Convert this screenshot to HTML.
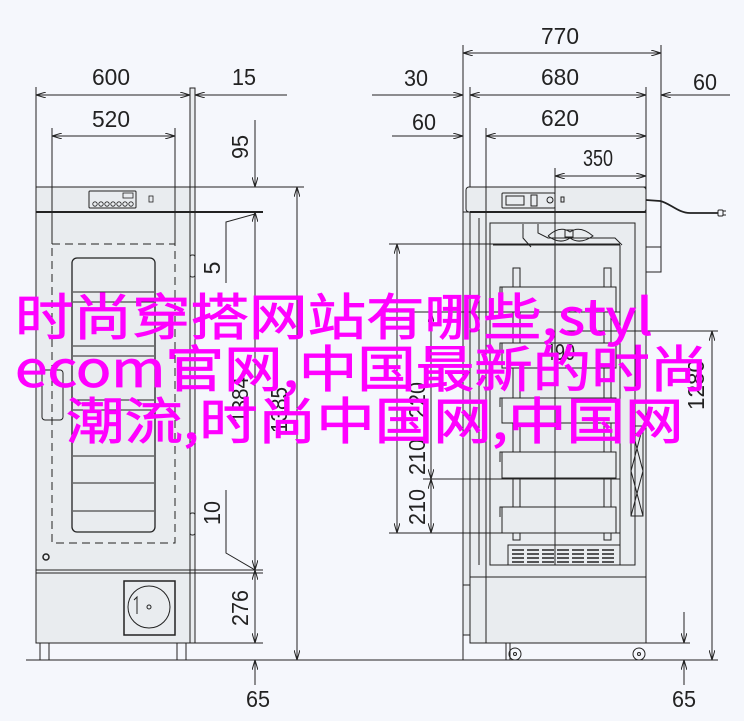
<!DOCTYPE html>
<html><head><meta charset="utf-8"><style>
html,body{margin:0;padding:0;background:#f5f7fc;}
#w{position:relative;width:744px;height:721px;overflow:hidden;background:#f5f7fc;}
svg{position:absolute;left:0;top:0;}
.t{position:absolute;white-space:nowrap;font-family:"Noto Sans CJK SC","Liberation Sans",sans-serif;font-size:50px;line-height:50px;color:#ff00ff;-webkit-text-stroke:0.8px #ff00ff;transform:scaleX(1.17);transform-origin:0 0;}
</style></head><body><div id="w">
<svg width="744" height="721" viewBox="0 0 744 721">
<defs>
<marker id="a" viewBox="0 0 10 6" refX="10" refY="3" markerWidth="10" markerHeight="6" orient="auto-start-reverse" markerUnits="userSpaceOnUse"><path d="M0,0 L10,3 L0,6" fill="none" stroke="#222" stroke-width="1"/></marker>
</defs>
<g stroke="#222" stroke-width="1" fill="none">
<rect x="36" y="187" width="154" height="456" fill="#e9ecef"/>
<rect x="190" y="88" width="5" height="555" fill="#e9ecef"/>
<line x1="36" y1="212" x2="263" y2="212" stroke-width="2"/>
<line x1="36" y1="187" x2="304" y2="187"/>
<rect x="89" y="191" width="47" height="17" rx="1"/>
<g stroke-width="0.8"><circle cx="95" cy="204" r="2.2"/><circle cx="101" cy="204" r="2.2"/><circle cx="107" cy="204" r="2.2"/><circle cx="113" cy="204" r="2.2"/><circle cx="119" cy="204" r="2.2"/><circle cx="125" cy="204" r="2.2"/><circle cx="131" cy="204" r="2.2"/><rect x="123" y="193" width="10" height="5"/></g>
<rect x="149" y="196" width="4" height="6" stroke-width="0.8"/>
<rect x="52" y="244" width="123" height="299" stroke-dasharray="8,5"/>
<rect x="72" y="258" width="83" height="274" rx="5" stroke-width="1.3"/>
<g stroke-width="1"><line x1="73" y1="292" x2="154" y2="292"/><line x1="73" y1="302" x2="154" y2="302"/><line x1="73" y1="346" x2="154" y2="346"/><line x1="73" y1="356" x2="154" y2="356"/><line x1="73" y1="400" x2="154" y2="400"/><line x1="73" y1="410" x2="154" y2="410"/><line x1="73" y1="456" x2="154" y2="456"/><line x1="73" y1="483" x2="154" y2="483"/><line x1="73" y1="511" x2="154" y2="511"/></g>
<rect x="42" y="370" width="21" height="50" rx="3"/>
<rect x="190" y="255" width="5" height="22" rx="2"/>
<rect x="190" y="513" width="5" height="22" rx="2"/>
<circle cx="46" cy="557" r="3" stroke-width="1.5"/>
<line x1="36" y1="570" x2="263" y2="570" stroke-width="1"/><line x1="36" y1="573" x2="263" y2="573" stroke-width="1"/>
<rect x="124" y="581" width="51" height="54" stroke-width="1.5"/>
<circle cx="149" cy="607" r="21"/><circle cx="149" cy="607" r="2"/>
<path d="M137,614 L137,597 L134,600"/>
<line x1="190" y1="643" x2="263" y2="643"/>
<rect x="40" y="643" width="9" height="17"/><rect x="177" y="643" width="9" height="17"/>
<line x1="26" y1="660" x2="470" y2="660"/>
<line x1="36" y1="87" x2="36" y2="187"/><line x1="52" y1="128" x2="52" y2="244"/><line x1="175" y1="128" x2="175" y2="244"/>
<line x1="36" y1="95" x2="190" y2="95" marker-start="url(#a)" marker-end="url(#a)"/>
<line x1="195" y1="95" x2="287" y2="95" marker-start="url(#a)"/>
<line x1="52" y1="136" x2="175" y2="136" marker-start="url(#a)" marker-end="url(#a)"/>
<line x1="255" y1="120" x2="255" y2="187" marker-end="url(#a)"/>
<line x1="255" y1="570" x2="255" y2="212" marker-end="url(#a)" marker-start="url(#a)"/>
<line x1="255" y1="570" x2="255" y2="643" marker-start="url(#a)" marker-end="url(#a)"/>
<line x1="255" y1="685" x2="255" y2="660" marker-end="url(#a)"/>
<line x1="297" y1="187" x2="297" y2="660" marker-start="url(#a)" marker-end="url(#a)"/>
<path d="M226,490 L226,553 L255,570"/>
<path d="M255,214 L226,222 L226,283"/>
<rect x="463" y="212" width="23" height="423" fill="#e9ecef"/>
<rect x="470" y="187" width="176" height="456" fill="#e9ecef"/>
<rect x="466" y="187" width="180" height="25" rx="3" fill="#e9ecef"/>
<line x1="470" y1="212" x2="646" y2="212" stroke-width="2"/>
<rect x="502" y="193" width="53" height="15" rx="1"/>
<rect x="506" y="196" width="18" height="9"/>
<rect x="531" y="195" width="6" height="11"/>
<circle cx="550" cy="200" r="3"/><rect x="561" y="197" width="3" height="5"/>
<rect x="490" y="223" width="145" height="342" fill="#e9ecef"/>
<line x1="486" y1="212" x2="486" y2="635"/>
<line x1="479" y1="218" x2="479" y2="565"/>
<path d="M523,224 L523,238 L531,247 M538,224 L538,233 L548,238 L615,238 L622,245"/>
<path d="M548,236 Q560,225 570,232 Q580,225 593,236 Q580,245 570,238 Q560,245 548,236"/>
<rect x="565" y="230" width="8" height="7"/>
<line x1="493" y1="245" x2="620" y2="245"/>
<line x1="620" y1="245" x2="620" y2="560"/>
<g fill="#e9ecef">
<rect x="513" y="268" width="7" height="272"/><rect x="604" y="268" width="7" height="272"/>
<rect x="502" y="287" width="114" height="25"/>
<rect x="502" y="343" width="114" height="25"/>
<rect x="502" y="398" width="114" height="25"/>
<rect x="502" y="452" width="114" height="26"/>
<rect x="502" y="507" width="114" height="26"/>
</g>
<path d="M500,297 L500,287 L504,287 M500,352 L500,343 L504,343 M500,407 L500,398 L504,398 M500,462 L500,452 L504,452 M500,517 L500,507 L504,507"/>
<rect x="631" y="426" width="12" height="90"/><path d="M631,426 L643,471 L631,516 M643,426 L631,471 L643,516"/>
<rect x="508" y="545" width="112" height="20"/>
<g stroke-width="1.5"><line x1="512" y1="550" x2="616" y2="550" stroke-dasharray="12,3"/><line x1="512" y1="554" x2="616" y2="554" stroke-dasharray="12,3"/><line x1="512" y1="558" x2="616" y2="558" stroke-dasharray="12,3"/><line x1="512" y1="562" x2="616" y2="562" stroke-dasharray="12,3"/></g>
<line x1="470" y1="577" x2="646" y2="577"/>
<line x1="486" y1="577" x2="486" y2="643"/>
<rect x="463" y="585" width="7" height="50" fill="#e9ecef"/>
<rect x="646" y="247" width="15" height="25"/>
<line x1="661" y1="45" x2="661" y2="247"/>
<path d="M646,200 L660,201 C670,203 678,213 690,213 L718,213" stroke-width="1.8"/>
<rect x="718" y="210" width="5" height="6" rx="1"/><line x1="723" y1="211" x2="726" y2="211"/><line x1="723" y1="215" x2="726" y2="215"/>
<line x1="506" y1="643" x2="506" y2="660"/><line x1="510" y1="643" x2="510" y2="660"/>
<circle cx="515" cy="654" r="6"/><circle cx="515" cy="654" r="1.5"/>
<circle cx="639" cy="654" r="6"/><circle cx="639" cy="654" r="1.5"/>
<line x1="372" y1="660" x2="718" y2="660"/>
<line x1="463" y1="45" x2="463" y2="660"/>
<line x1="470" y1="87" x2="470" y2="187"/><line x1="646" y1="87" x2="646" y2="187"/>
<line x1="486" y1="128" x2="486" y2="212"/><line x1="555" y1="168" x2="555" y2="565"/>
<line x1="463" y1="53" x2="661" y2="53" marker-start="url(#a)" marker-end="url(#a)"/>
<line x1="470" y1="95" x2="646" y2="95" marker-start="url(#a)" marker-end="url(#a)"/>
<line x1="372" y1="95" x2="463" y2="95" marker-end="url(#a)"/>
<line x1="730" y1="95" x2="661" y2="95" marker-end="url(#a)"/>
<line x1="486" y1="136" x2="646" y2="136" marker-start="url(#a)" marker-end="url(#a)"/>
<line x1="392" y1="136" x2="463" y2="136" marker-end="url(#a)"/>
<line x1="555" y1="176" x2="646" y2="176" marker-start="url(#a)" marker-end="url(#a)"/>
<line x1="389" y1="244" x2="620" y2="244"/>
<line x1="389" y1="533" x2="620" y2="533"/>
<line x1="423" y1="479" x2="620" y2="479"/>
<line x1="389" y1="312" x2="620" y2="312"/>
<line x1="560" y1="331" x2="718" y2="331"/>
<line x1="397" y1="244" x2="397" y2="533" marker-start="url(#a)" marker-end="url(#a)"/>
<line x1="431" y1="312" x2="431" y2="479" marker-start="url(#a)" marker-end="url(#a)"/>
<line x1="431" y1="479" x2="431" y2="533" marker-start="url(#a)" marker-end="url(#a)"/>
<line x1="712" y1="331" x2="712" y2="660" marker-start="url(#a)" marker-end="url(#a)"/>
<line x1="646" y1="643" x2="690" y2="643"/>
<line x1="684" y1="612" x2="684" y2="643" marker-end="url(#a)"/>
<line x1="684" y1="685" x2="684" y2="660" marker-end="url(#a)"/>
</g>
<g font-family="Liberation Sans, sans-serif" font-size="23" fill="#222" text-anchor="middle">
<text x="111" y="85" textLength="38" lengthAdjust="spacingAndGlyphs">600</text>
<text x="244" y="85" textLength="24" lengthAdjust="spacingAndGlyphs">15</text>
<text x="111" y="127" textLength="38" lengthAdjust="spacingAndGlyphs">520</text>
<text x="560" y="44" textLength="38" lengthAdjust="spacingAndGlyphs">770</text>
<text x="560" y="85" textLength="38" lengthAdjust="spacingAndGlyphs">680</text>
<text x="416" y="86" textLength="24" lengthAdjust="spacingAndGlyphs">30</text>
<text x="705" y="90" textLength="24" lengthAdjust="spacingAndGlyphs">60</text>
<text x="560" y="126" textLength="38" lengthAdjust="spacingAndGlyphs">620</text>
<text x="424" y="130" textLength="24" lengthAdjust="spacingAndGlyphs">60</text>
<text x="598" y="166" textLength="30" lengthAdjust="spacingAndGlyphs">350</text>
<text x="258" y="707" textLength="24" lengthAdjust="spacingAndGlyphs">65</text>
<text x="684" y="707" textLength="24" lengthAdjust="spacingAndGlyphs">65</text>
<text transform="translate(248,147) rotate(-90)" textLength="24" lengthAdjust="spacingAndGlyphs">95</text>
<text transform="translate(220,268) rotate(-90)">5</text>
<text transform="translate(220,513) rotate(-90)" textLength="24" lengthAdjust="spacingAndGlyphs">10</text>
<text transform="translate(248,608) rotate(-90)" textLength="36" lengthAdjust="spacingAndGlyphs">276</text>
<text transform="translate(248,400) rotate(-90)" textLength="46" lengthAdjust="spacingAndGlyphs">1384</text>
<text transform="translate(287,410) rotate(-90)" textLength="46" lengthAdjust="spacingAndGlyphs">1385</text>
<text transform="translate(425,400) rotate(-90)" textLength="36" lengthAdjust="spacingAndGlyphs">220</text>
<text transform="translate(425,457) rotate(-90)" textLength="36" lengthAdjust="spacingAndGlyphs">210</text>
<text transform="translate(425,507) rotate(-90)" textLength="36" lengthAdjust="spacingAndGlyphs">210</text>
<text x="560" y="360" textLength="30" lengthAdjust="spacingAndGlyphs">490</text>
<text transform="translate(704,385) rotate(-90)" textLength="50" lengthAdjust="spacingAndGlyphs">1280</text>
</g>
</svg>
<div class="t" style="left:15px;top:289px;">时尚穿搭网站有哪些,styl</div>
<div class="t" style="left:15px;top:341px;">ecom官网,中国最新的时尚</div>
<div class="t" style="left:66px;top:393px;">潮流,时尚中国网,中国网</div>
</div></body></html>
